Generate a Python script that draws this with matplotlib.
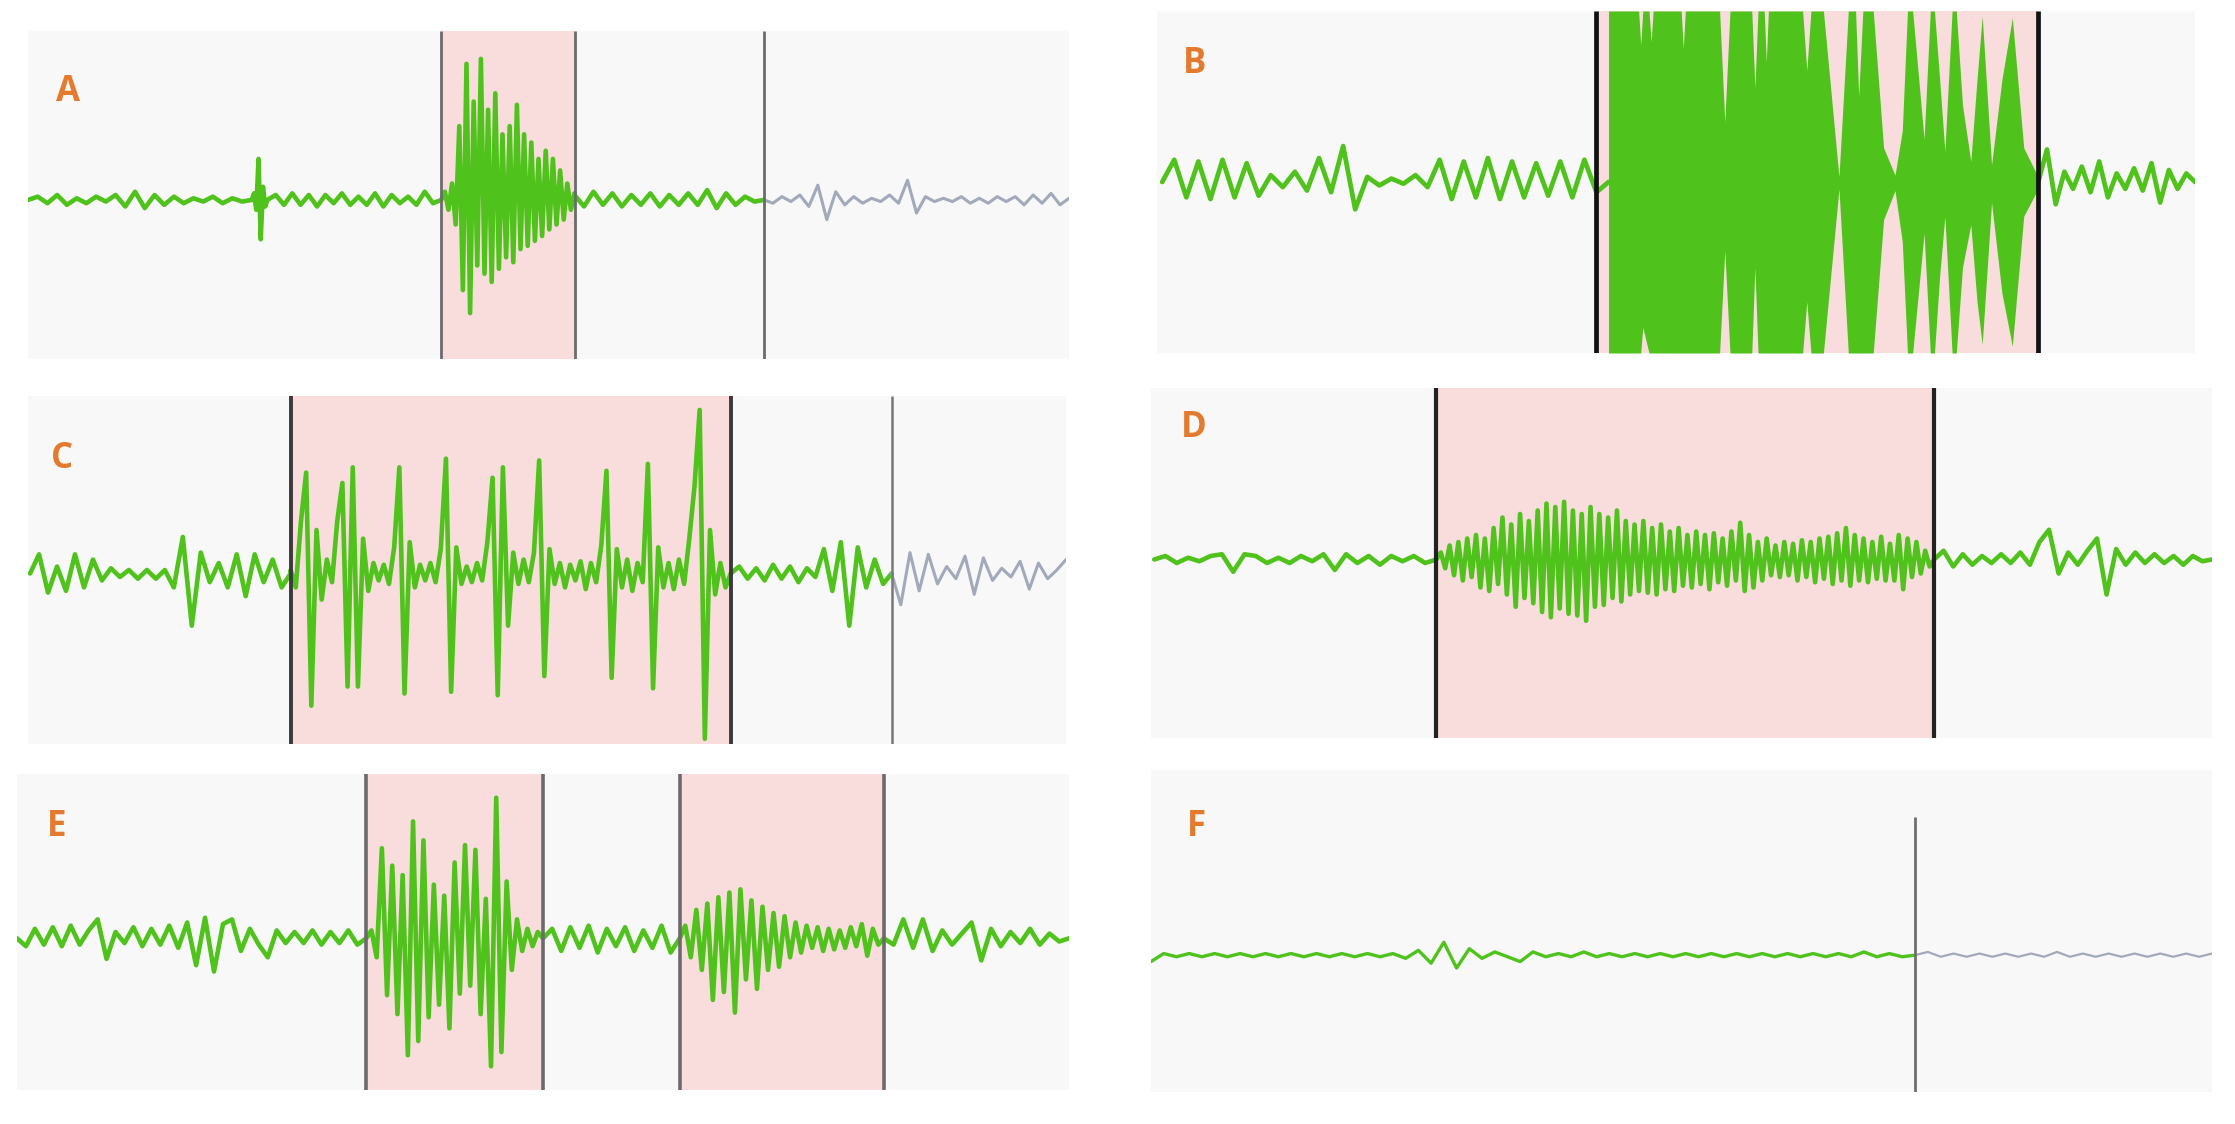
import numpy as np
import matplotlib
matplotlib.use("Agg")
import matplotlib.pyplot as plt

# time axis of every panel runs 0..100 (% of the recording shown), amplitude in a.u.

# ---- panel A
A_quiet1 = [0, 2, -2, 3, -3, 1, -2, 2, -1, 3, -4, 5, -5, 3, -3, 2, -2, 1, -1, 2, -2, 1, -1, 0]
A_spike = [0, 4, -6, 25, -24, 8, -4, 0]
A_quiet2 = [0, 3, -3, 4, -3, 3, -4, 3, -2, 4, -3, 2, -3, 4, -4, 3, -2, 2, -3, 5, -2, 0]
A_burst = [0, 5, -6, 10, -15, 45, -55, 83, -69, 60, -40, 86, -45, 55, -50, 65, -42, 40, -35,
           45, -38, 58, -30, 40, -28, 35, -25, 25, -22, 30, -18, 25, -15, 18, -12, 10, -6, 4]
A_quiet3 = [3, -4, 5, -3, 4, -4, 3, -3, 4, -4, 3, -3, 4, -3, 6, -5, 4, -3, 2, -1, 0]
A_after = [0, -2, 2, -1, 3, -4, 9, -12, 5, -3, 2, -2, 1, -1, 3, -2, 12, -8, 2, -1, 1, -1,
           2, -2, 1, -2, 2, -1, 2, -3, 3, -2, 4, -3, 1]
A_green = [(0, 21.5, A_quiet1), (21.5, 23, A_spike), (23, 39.7, A_quiet2),
           (39.7, 52.5, A_burst), (52.5, 70.7, A_quiet3)]
A_gray = [(70.7, 100, A_after)]
A_seizure = [(39.7, 52.5)]
A_marks = [39.7, 52.5, 70.7]

# ---- panel B
B_quiet1 = [0, 13, -9, 12, -10, 13, -9, 11, -8, 4, -3, 6, -5, 14, -6, 21, -16, 3, -2, 2, -1,
            4, -3, 13, -10, 12, -9, 14, -10, 12, -9, 11, -8, 12, -9, 13, -6, 0]
B_quiet2 = [0, 19, -13, 6, -4, 9, -6, 12, -9, 5, -4, 8, -5, 11, -12, 7, -4, 5, 0]
B_env_t = [43.5, 46.4, 46.6, 46.8, 47.4, 47.6, 47.8, 50.5, 50.7, 50.9,
           54.2, 54.7, 55.2, 57.3, 57.6, 57.9, 58.5, 58.7, 58.9, 62.2,
           62.6, 63.0, 64.2, 65.7, 66.6, 67.3, 67.6, 68.0, 69.0, 70.0,
           71.1, 71.8, 72.3, 72.8, 73.9, 74.5, 74.9, 75.4, 75.9, 76.6,
           77.0, 77.6, 78.4, 79.0, 79.5, 80.4, 81.4, 82.4, 83.5, 84.8]
B_env_hi = [100, 100, 80, 100, 100, 82, 100, 100, 78, 100,
            100, 35, 100, 100, 55, 100, 100, 70, 100, 100,
            65, 100, 100, 3, 100, 100, 50, 100, 100, 20,
            4, 30, 100, 100, 25, 100, 100, 60, 18, 100,
            100, 45, 12, 60, 97, 10, 60, 96, 20, 4]
B_env_lo = [-100, -100, -100, -85, -100, -100, -100, -100, -100, -100,
            -100, -40, -100, -100, -50, -100, -100, -100, -100, -100,
            -70, -100, -100, -4, -100, -100, -100, -100, -100, -22,
            -5, -35, -100, -100, -30, -100, -100, -55, -20, -100,
            -100, -50, -25, -70, -95, -12, -65, -96, -20, -5]
B_green = [(0.5, 43.5, B_quiet1), (84.9, 100, B_quiet2)]
B_seizure = [(42.3, 84.9)]
B_marks = [42.3, 84.9]

# ---- panel C
C_quiet1 = [0, 11, -11, 4, -10, 11, -8, 8, -4, 3, -2, 2, -3, 2, -3, 2, -8, 21, -30, 12,
            -5, 6, -8, 11, -13, 11, -5, 8, -8, 0]
C_burst = [2, -8, 30, 58, -76, 25, -15, 8, -5, 30, 52, -65, 61, -65, 20, -10, 6, -4, 5, -6,
           15, 61, -69, 18, -8, 5, -4, 6, -5, 14, 66, -68, 15, -6, 4, -5, 6, -4, 18, 55,
           -70, 61, -30, 12, -6, 8, -5, 12, 65, -59, 14, -6, 6, -8, 5, -4, 7, -9, 6, -5,
           16, 59, -60, 14, -8, 8, -10, 6, -5, 63, -66, 15, -8, 6, -9, 8, -6, 20, 50, 94,
           -95, 25, -12, 6, -8, 0]
C_quiet2 = [0, 4, -3, 3, -4, 5, -3, 4, -5, 3, -2, 14, -10, 18, -30, 15, -8, 8, -6, 0]
C_after = [0, -18, 12, -10, 11, -6, 4, -3, 10, -12, 9, -4, 3, -2, 7, -9, 6, -3, 2, 8]
C_green = [(0.2, 25.3, C_quiet1), (25.3, 67.7, C_burst), (67.7, 83.2, C_quiet2)]
C_gray = [(83.2, 100, C_after)]
C_seizure = [(25.3, 67.7)]
C_marks = [25.3, 67.7]
C_end_mark = [83.2]

# ---- panel D
D_quiet1 = [0, 2, -2, 1, -1, 2, 3, -7, 3, 2, -2, 1, -2, 2, -1, 3, -6, 3, -2, 2, -3, 2, -1, 2, -2, 0]
D_burst = [0, 4, -5, 8, -9, 10, -12, 12, -10, 14, -16, 12, -18, 18, -14, 24, -20, 20, -27, 26, -22,
           22, -25, 28, -30, 32, -33, 30, -28, 33, -31, 28, -32, 26, -35, 30, -27, 26, -26, 24, -22,
           28, -24, 22, -20, 20, -18, 22, -19, 18, -20, 20, -17, 16, -18, 18, -15, 14, -16, 16, -14,
           14, -17, 15, -13, 12, -15, 16, -12, 21, -18, 14, -16, 10, -12, 12, -9, 8, -10, 10, -9,
           9, -12, 11, -10, 10, -13, 12, -11, 13, -14, 15, -12, 18, -15, 14, -12, 12, -13, 10, -11,
           13, -12, 9, -12, 14, -17, 12, -10, 10, -8, 5, -4, 0]
D_quiet2 = [0, 5, -4, 3, -3, 2, -2, 3, -2, 4, -3, 10, 17, -8, 4, -3, 5, 12, -20, 6,
            -3, 4, -2, 3, -2, 2, -3, 2, -1, 0]
D_green = [(0.3, 26.9, D_quiet1), (26.9, 73.8, D_burst), (73.8, 100, D_quiet2)]
D_seizure = [(26.9, 73.8)]
D_marks = [26.9, 73.8]

# ---- panel E
E_quiet1 = [0, -5, 6, -4, 7, -5, 8, -4, 5, 12, -13, 4, -3, 7, -5, 6, -4, 8, -6, 10,
            -17, 13, -21, 9, 12, -8, 6, -4, -12, 5, -3, 4, -3, 5, -4, 4, -3, 5, -4, 0]
E_burst1 = [0, 5, -12, 57, -36, 46, -48, 40, -74, 74, -65, 62, -50, 34, -42, 27, -57, 48, -35, 59,
            -30, 56, -48, 25, -81, 89, -72, 36, -20, 12, -8, 6, -5, 4, 0]
E_quiet2 = [0, 6, -8, 7, -6, 8, -9, 6, -5, 7, -8, 5, -6, 8, -9, 0]
E_burst2 = [0, 8, -12, 18, -20, 22, -39, 26, -34, 29, -47, 31, -26, 24, -32, 20, -20, 16, -18, 14,
            -12, 10, -9, 8, -6, 7, -8, 6, -7, 5, -6, 7, -5, 9, -11, 6, -4, 0]
E_quiet3 = [0, -4, 12, -6, 12, -8, 5, -4, 3, 10, -14, 6, -5, 4, -3, 6, -4, 3, -2, 0]
E_green = [(0, 33.2, E_quiet1), (33.2, 50.0, E_burst1), (50.0, 63.0, E_quiet2),
           (63.0, 82.4, E_burst2), (82.4, 100, E_quiet3)]
E_seizure = [(33.2, 50.0), (63.0, 82.4)]
E_marks = [33.2, 50.0, 63.0, 82.4]

# ---- panel F
F_before = [-4, 1, -1, 1, -1, 1, -1, 1, -1, 1, -1, 1, -1, 1, -1, 1, -1, 1, -1, 1,
            -2, 3, -5, 8, -8, 4, -2, 2, -1, -4, 2, -1, 1, -1, 2, -1, 1, -1, 1, -1,
            1, -1, 1, -1, 1, -1, 1, -1, 1, -1, 1, -1, 1, -1, 1, -1, 2, -1, 1, -1, 0]
F_after = [0, 2, -1, 1, -1, 1, -1, 1, -1, 1, -1, 2, -1, 1, -1, 1, -1, 1, -1, 1, -1, 1, -1, 1]
F_green = [(0, 72.0, F_before)]
F_gray = [(72.0, 100, F_after)]
F_marks = [72.0]

GREEN = '#4fc21c'
GRAYTRACE = '#a2a9ba'
PINK = '#f9dcdc'
BG = '#f8f8f8'
ORANGE = '#e47a2e'

W, H = 2235, 1124
fig = plt.figure(figsize=(W / 100, H / 100), dpi=100)
fig.patch.set_facecolor('white')


def panel(box, ylim, letter, lx, ly):
    x0, y0, x1, y1 = box
    ax = fig.add_axes([x0 / W, 1 - y1 / H, (x1 - x0) / W, (y1 - y0) / H])
    ax.set_facecolor(BG)
    ax.set_xlim(0, 100)
    ax.set_ylim(*ylim)
    ax.set_xticks([])
    ax.set_yticks([])
    for s in ax.spines.values():
        s.set_visible(False)
    ax.text(lx, ly, letter, transform=ax.transAxes, ha='center', va='center',
            fontsize=25, fontweight='bold', color=ORANGE, family=['Open Sans', 'DejaVu Sans'])
    return ax


def trace(ax, segs, color, lw):
    xs = np.concatenate([np.linspace(t0, t1, len(v)) for t0, t1, v in segs])
    ys = np.concatenate([v for t0, t1, v in segs])
    ax.plot(xs, ys, color=color, lw=lw, solid_joinstyle='round', solid_capstyle='round', zorder=3)


def shade(ax, spans):
    for a, b in spans:
        ax.axvspan(a, b, color=PINK, lw=0, zorder=1)


def marks(ax, xs, color, lw, lo=None, hi=None):
    y0, y1 = ax.get_ylim()
    ax.vlines(xs, y0 if lo is None else lo, y1 if hi is None else hi,
              colors=color, lw=lw, zorder=4)


# A
ax = panel((28, 31, 1069, 359), (-97, 103), 'A', 0.038, 0.813)
shade(ax, A_seizure)
trace(ax, A_green, GREEN, 3.3)
trace(ax, A_gray, GRAYTRACE, 2.2)
marks(ax, A_marks, '#6b6b6b', 2.0)

# B
ax = panel((1157, 11, 2195, 353), (-100, 100), 'B', 0.036, 0.846)
shade(ax, B_seizure)
ax.fill_between(B_env_t, B_env_lo, B_env_hi, color=GREEN, lw=0, zorder=3)
trace(ax, B_green, GREEN, 3.4)
marks(ax, B_marks, '#111111', 3.4)

# C
ax = panel((28, 396, 1066, 744), (-98, 102), 'C', 0.033, 0.82)
shade(ax, C_seizure)
trace(ax, C_green, GREEN, 3.3)
trace(ax, C_gray, GRAYTRACE, 2.2)
marks(ax, C_marks, '#3d393a', 2.8)
marks(ax, C_end_mark, '#777777', 1.8)

# D
ax = panel((1151, 388, 2212, 738), (-102, 98), 'D', 0.040, 0.886)
shade(ax, D_seizure)
trace(ax, D_green, GREEN, 3.3)
marks(ax, D_marks, '#222222', 3.0)

# E
ax = panel((17, 774, 1069, 1090), (-96, 104), 'E', 0.038, 0.833)
shade(ax, E_seizure)
trace(ax, E_green, GREEN, 3.3)
marks(ax, E_marks, '#6d6a6d', 2.6)

# F
ax = panel((1151, 770, 2212, 1092), (-85, 115), 'F', 0.043, 0.823)
trace(ax, F_green, GREEN, 2.4)
trace(ax, F_gray, GRAYTRACE, 1.6)
marks(ax, F_marks, '#6e6e6e', 2.0, hi=86)

fig.savefig('out.png', dpi=100, facecolor='white')
